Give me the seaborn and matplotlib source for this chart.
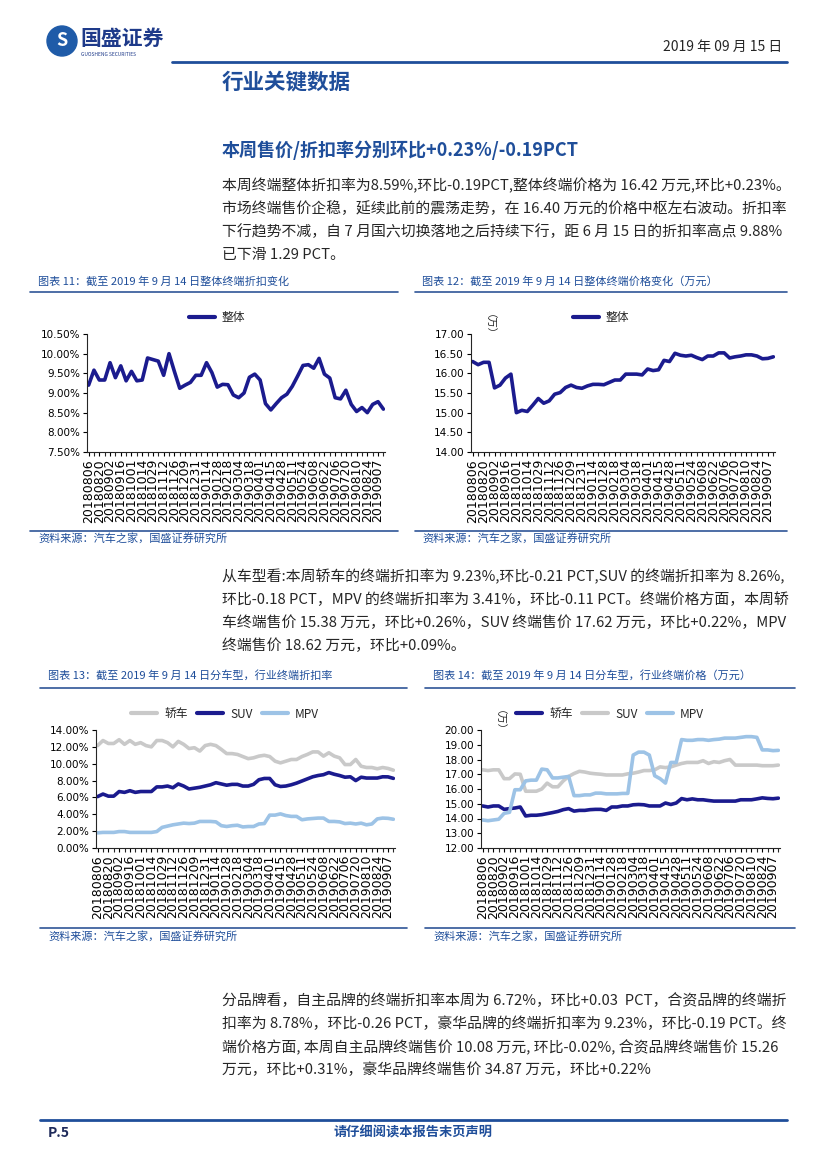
import pandas as pd
import seaborn as sns
import matplotlib.pyplot as plt
from matplotlib.lines import Line2D
from matplotlib.patches import Ellipse

# weekly sample dates (only every second one is labelled on the axis)
dates = [
    '20180806', '20180813', '20180820', '20180826', '20180902', '20180909', '20180916', '20180923',
    '20181001', '20181007', '20181014', '20181021', '20181029', '20181104', '20181112', '20181118',
    '20181126', '20181202', '20181209', '20181223', '20181231', '20190107', '20190114', '20190121',
    '20190128', '20190211', '20190218', '20190225', '20190304', '20190311', '20190318', '20190325',
    '20190401', '20190408', '20190415', '20190421', '20190428', '20190504', '20190511', '20190518',
    '20190524', '20190601', '20190608', '20190615', '20190622', '20190629', '20190706', '20190713',
    '20190720', '20190803', '20190810', '20190817', '20190824', '20190831', '20190907', '20190914',
]

# 图表11 整体终端折扣率 (%)
overall_discount = [
    9.20, 9.58, 9.33, 9.33, 9.77, 9.39, 9.69, 9.31, 9.55, 9.31,
    9.33, 9.89, 9.85, 9.81, 9.45, 10.00, 9.55, 9.12, 9.20, 9.27,
    9.45, 9.45, 9.77, 9.52, 9.15, 9.22, 9.21, 8.95, 8.88, 9.00,
    9.40, 9.48, 9.33, 8.73, 8.57, 8.73, 8.88, 8.97, 9.17, 9.43,
    9.70, 9.72, 9.63, 9.88, 9.48, 9.38, 8.88, 8.85, 9.07, 8.71,
    8.53, 8.63, 8.50, 8.71, 8.78, 8.59,
]
# 图表12 整体终端价格 (万元)
overall_price = [
    16.30, 16.22, 16.28, 16.28, 15.63, 15.70, 15.88, 15.98, 15.00, 15.06,
    15.03, 15.19, 15.36, 15.24, 15.30, 15.47, 15.51, 15.64, 15.70, 15.64,
    15.62, 15.68, 15.72, 15.72, 15.71, 15.77, 15.83, 15.83, 15.98, 15.98,
    15.98, 15.96, 16.11, 16.07, 16.09, 16.33, 16.30, 16.51, 16.46, 16.44,
    16.46, 16.40, 16.35, 16.44, 16.44, 16.52, 16.52, 16.39, 16.42, 16.44,
    16.47, 16.47, 16.44, 16.37, 16.38, 16.42,
]
# 图表13 分车型折扣率 (%)
sedan_discount = [
    12.15, 12.75, 12.40, 12.40, 12.85, 12.30, 12.75, 12.30, 12.50, 12.15,
    12.00, 12.75, 12.75, 12.50, 12.00, 12.65, 12.30, 11.80, 11.90, 11.50,
    12.15, 12.30, 12.15, 11.70, 11.20, 11.20, 11.10, 10.85, 10.60, 10.70,
    10.90, 11.00, 10.85, 10.30, 10.10, 10.30, 10.50, 10.50, 10.85, 11.10,
    11.40, 11.40, 10.90, 11.30, 10.90, 10.70, 9.90, 9.90, 10.50, 9.70,
    9.55, 9.55, 9.40, 9.55, 9.44, 9.23,
]
suv_discount = [
    6.10, 6.40, 6.15, 6.15, 6.70, 6.60, 6.80, 6.60, 6.70, 6.70,
    6.70, 7.25, 7.25, 7.35, 7.15, 7.60, 7.35, 7.00, 7.10, 7.20,
    7.35, 7.50, 7.75, 7.60, 7.45, 7.55, 7.55, 7.35, 7.35, 7.55,
    8.10, 8.25, 8.25, 7.50, 7.30, 7.35, 7.50, 7.70, 7.95, 8.20,
    8.45, 8.60, 8.70, 8.95, 8.75, 8.60, 8.40, 8.45, 8.00, 8.40,
    8.30, 8.30, 8.30, 8.45, 8.44, 8.26,
]
mpv_discount = [
    1.80, 1.85, 1.85, 1.85, 1.95, 1.95, 1.85, 1.85, 1.85, 1.85,
    1.85, 1.95, 2.45, 2.60, 2.75, 2.85, 2.95, 2.90, 2.95, 3.15,
    3.15, 3.15, 3.10, 2.65, 2.55, 2.65, 2.70, 2.50, 2.55, 2.55,
    2.85, 2.90, 3.90, 3.90, 4.05, 3.85, 3.75, 3.75, 3.35, 3.45,
    3.50, 3.55, 3.55, 3.15, 3.15, 3.10, 2.90, 2.95, 2.85, 2.95,
    2.75, 2.85, 3.45, 3.55, 3.52, 3.41,
]
# 图表14 分车型终端价格 (万元)
sedan_price = [
    14.85, 14.78, 14.85, 14.85, 14.62, 14.67, 14.71, 14.78, 14.17, 14.22,
    14.22, 14.26, 14.33, 14.40, 14.48, 14.60, 14.67, 14.50, 14.55, 14.55,
    14.60, 14.62, 14.62, 14.55, 14.78, 14.78, 14.85, 14.85, 14.93, 14.95,
    14.93, 14.85, 14.85, 14.85, 15.05, 14.95, 15.05, 15.35, 15.27, 15.33,
    15.27, 15.27, 15.22, 15.18, 15.18, 15.18, 15.18, 15.18, 15.27, 15.27,
    15.27, 15.33, 15.40, 15.36, 15.34, 15.38,
]
suv_price = [
    17.30, 17.25, 17.30, 17.30, 16.70, 16.70, 17.02, 17.00, 15.85, 15.85,
    15.85, 16.00, 16.40, 16.15, 16.15, 16.55, 16.85, 17.05, 17.20, 17.15,
    17.07, 17.03, 17.00, 16.95, 16.95, 16.95, 16.95, 17.03, 17.07, 17.15,
    17.25, 17.25, 17.30, 17.50, 17.45, 17.50, 17.62, 17.73, 17.80, 17.80,
    17.80, 17.92, 17.73, 17.85, 17.80, 17.92, 18.00, 17.62, 17.62, 17.62,
    17.62, 17.62, 17.58, 17.58, 17.58, 17.62,
]
mpv_price = [
    13.90, 13.85, 13.90, 13.95, 14.35, 14.42, 15.95, 15.95, 16.55, 16.60,
    16.60, 17.35, 17.30, 16.75, 16.75, 16.80, 16.85, 15.55, 15.55, 15.60,
    15.60, 15.72, 15.72, 15.67, 15.67, 15.67, 15.70, 15.70, 18.30, 18.50,
    18.50, 18.30, 16.90, 16.70, 16.40, 17.80, 17.80, 19.35, 19.30, 19.30,
    19.35, 19.35, 19.30, 19.35, 19.38, 19.45, 19.45, 19.45, 19.50, 19.55,
    19.55, 19.50, 18.65, 18.65, 18.60, 18.62,
]

NAVY = '#1B1B8E'
GRAY = '#C9C9C9'
LIGHT = '#9DC3E6'
BLUE = '#1F4E9A'
RULE = '#2F5597'

sns.set_style("ticks")
plt.rcParams['font.family'] = ['Noto Sans CJK SC', 'DejaVu Sans']
plt.rcParams['axes.linewidth'] = 0.8

W, H = 827, 1170
fig = plt.figure(figsize=(8.27, 11.70), dpi=100)

df = pd.DataFrame({
    'pos': range(len(dates)),
    'date': dates,
    '整体折扣': overall_discount,
    '整体价格': overall_price,
    '轿车折扣': sedan_discount,
    'SUV折扣': suv_discount,
    'MPV折扣': mpv_discount,
    '轿车价格': sedan_price,
    'SUV价格': suv_price,
    'MPV价格': mpv_price,
})


def px_axes(left, top, right, bottom):
    return fig.add_axes([left / W, 1 - bottom / H, (right - left) / W, (bottom - top) / H])


def ftext(x, y, s, **kw):
    kw.setdefault('va', 'center')
    fig.text(x / W, 1 - y / H, s, **kw)


def hline(x0, x1, y, color=RULE, lw=1.2):
    fig.add_artist(Line2D([x0 / W, x1 / W], [1 - y / H, 1 - y / H], color=color, lw=lw))


def draw_chart(rect, cols, names, colors, ylim, ystep, pct, leg_xy, unit=False):
    ax = px_axes(*rect)
    long = df.melt(id_vars='pos', value_vars=cols, var_name='series', value_name='value')
    sns.lineplot(data=long, x='pos', y='value', hue='series', hue_order=cols,
                 palette=dict(zip(cols, colors)), lw=2.6, sort=False, legend=False, ax=ax)
    ax.set_xlim(-0.3, len(dates) - 0.7)
    ax.set_ylim(*ylim)
    yt = []
    v = ylim[0]
    while v <= ylim[1] + 1e-9:
        yt.append(v)
        v += ystep
    ax.set_yticks(yt)
    ax.set_yticklabels([f'{t:.2f}%' if pct else f'{t:.2f}' for t in yt],
                       fontsize=7.5, family='DejaVu Sans')
    ax.set_xticks(df['pos'][::2])
    ax.set_xticklabels(df['date'][::2], rotation=90, fontsize=9, family='DejaVu Sans')
    ax.set_xticks(df['pos'], minor=True)
    ax.tick_params(axis='both', length=3, width=0.8, pad=2, colors='black')
    ax.tick_params(axis='x', which='minor', length=3, width=0.8)
    ax.set_xlabel('')
    ax.set_ylabel('')
    sns.despine(ax=ax)
    handles = [Line2D([], [], color=c, lw=3) for c in colors]
    ax.legend(handles, names, loc='center', ncol=len(names), frameon=False,
              bbox_to_anchor=(leg_xy[0] / W, 1 - leg_xy[1] / H), bbox_transform=fig.transFigure,
              handlelength=2.2, columnspacing=0.8, handletextpad=0.6, fontsize=8.5)
    if unit:
        ftext(rect[0] + 12, rect[1] - 4, '（万）', rotation=270, fontsize=7.5, ha='center')
    return ax


# ---------- header ----------
fig.add_artist(Ellipse((62 / W, 1 - 41 / H), 30 / W, 30 / H, color='#1F5BA8'))
ftext(62, 41, 'S', color='white', fontsize=13, fontweight='bold', ha='center')
ftext(80, 38, '国盛证券', color='#1E3A8A', fontsize=15, fontweight='bold')
ftext(81, 55, 'GUOSHENG SECURITIES', color='#1E3A8A', fontsize=3.5)
ftext(782, 47, '2019 年 09 月 15 日', fontsize=10, ha='right')
hline(172, 787, 62, color='#1F4E9A', lw=2)
ftext(222, 82, '行业关键数据', color=BLUE, fontsize=15.5, fontweight='bold')

ftext(222, 150, '本周售价/折扣率分别环比+0.23%/-0.19PCT', color=BLUE, fontsize=13, fontweight='bold')
para1 = [
    '本周终端整体折扣率为8.59%,环比-0.19PCT,整体终端价格为 16.42 万元,环比+0.23%。',
    '市场终端售价企稳，延续此前的震荡走势，在 16.40 万元的价格中枢左右波动。折扣率',
    '下行趋势不减，自 7 月国六切换落地之后持续下行，距 6 月 15 日的折扣率高点 9.88%',
    '已下滑 1.29 PCT。',
]
for i, line in enumerate(para1):
    ftext(222, 186 + 23 * i, line, fontsize=10.7)

# ---------- chart titles / rules ----------
ftext(38, 281, '图表 11：截至 2019 年 9 月 14 日整体终端折扣变化', color=BLUE, fontsize=8, style='italic')
ftext(422, 281, '图表 12：截至 2019 年 9 月 14 日整体终端价格变化（万元）', color=BLUE, fontsize=8, style='italic')
hline(30, 398, 292)
hline(415, 787, 292)

draw_chart((87, 334, 385, 452), ['整体折扣'], ['整体'], [NAVY], (7.5, 10.5), 0.5, True, (217, 318))
draw_chart((471, 334, 775, 452), ['整体价格'], ['整体'], [NAVY], (14.0, 17.0), 0.5, False, (601, 318), unit=True)

hline(30, 398, 531)
hline(415, 787, 531)
ftext(38, 538, '资料来源：汽车之家，国盛证券研究所', color=BLUE, fontsize=8, style='italic')
ftext(422, 538, '资料来源：汽车之家，国盛证券研究所', color=BLUE, fontsize=8, style='italic')

para2 = [
    '从车型看:本周轿车的终端折扣率为 9.23%,环比-0.21 PCT,SUV 的终端折扣率为 8.26%,',
    '环比-0.18 PCT，MPV 的终端折扣率为 3.41%，环比-0.11 PCT。终端价格方面，本周轿',
    '车终端售价 15.38 万元，环比+0.26%，SUV 终端售价 17.62 万元，环比+0.22%，MPV',
    '终端售价 18.62 万元，环比+0.09%。',
]
for i, line in enumerate(para2):
    ftext(222, 577 + 23 * i, line, fontsize=10.7)

ftext(48, 675, '图表 13：截至 2019 年 9 月 14 日分车型，行业终端折扣率', color=BLUE, fontsize=8, style='italic')
ftext(433, 675, '图表 14：截至 2019 年 9 月 14 日分车型，行业终端价格（万元）', color=BLUE, fontsize=8, style='italic')
hline(40, 407, 688)
hline(425, 795, 688)

draw_chart((96, 730, 395, 848), ['轿车折扣', 'SUV折扣', 'MPV折扣'], ['轿车', 'SUV', 'MPV'],
           [GRAY, NAVY, LIGHT], (0.0, 14.0), 2.0, True, (225, 714))
draw_chart((481, 730, 780, 848), ['轿车价格', 'SUV价格', 'MPV价格'], ['轿车', 'SUV', 'MPV'],
           [NAVY, GRAY, LIGHT], (12.0, 20.0), 1.0, False, (610, 714), unit=True)

hline(40, 407, 928)
hline(425, 795, 928)
ftext(48, 936, '资料来源：汽车之家，国盛证券研究所', color=BLUE, fontsize=8, style='italic')
ftext(433, 936, '资料来源：汽车之家，国盛证券研究所', color=BLUE, fontsize=8, style='italic')

para3 = [
    '分品牌看，自主品牌的终端折扣率本周为 6.72%，环比+0.03  PCT，合资品牌的终端折',
    '扣率为 8.78%，环比-0.26 PCT，豪华品牌的终端折扣率为 9.23%，环比-0.19 PCT。终',
    '端价格方面, 本周自主品牌终端售价 10.08 万元, 环比-0.02%, 合资品牌终端售价 15.26',
    '万元，环比+0.31%，豪华品牌终端售价 34.87 万元，环比+0.22%',
]
for i, line in enumerate(para3):
    ftext(222, 1001 + 23 * i, line, fontsize=10.7)

# ---------- footer ----------
hline(40, 787, 1120, color='#1F4E9A', lw=2)
ftext(48, 1133, 'P.5', fontsize=10, fontweight='bold', style='italic', color='#1E2A5A')
ftext(413, 1133, '请仔细阅读本报告末页声明', fontsize=9.5, fontweight='bold', color=BLUE, ha='center')

fig.savefig('out.png', dpi=100)
